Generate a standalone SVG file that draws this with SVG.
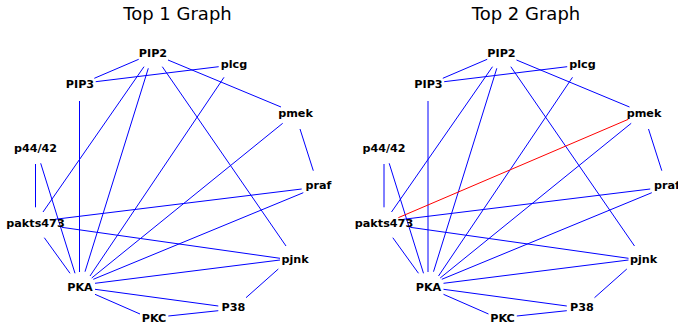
<svg xmlns="http://www.w3.org/2000/svg" width="678" height="328" viewBox="0 0 678 328">
<style>
.t{font-family:"DejaVu Sans","Liberation Sans",sans-serif;font-size:18px;fill:#000;text-anchor:middle}
.n{font-family:"DejaVu Sans","Liberation Sans",sans-serif;font-size:11.2px;font-weight:bold;fill:#000;text-anchor:middle}
.e line{stroke:#0000ff;stroke-width:1}
.e line.r{stroke:#ff0000}
</style>
<rect width="678" height="328" fill="#fff"/>
<text class="t" x="177.5" y="19.5">Top 1 Graph</text>
<text class="t" x="526" y="19.5">Top 2 Graph</text>
<g id="graph1">
<g id="g1-edges" class="e">
<line x1="138.7" y1="59.3" x2="94.3" y2="78.3"/>
<line x1="95.7" y1="81.7" x2="218.7" y2="66.7"/>
<line x1="168" y1="60" x2="281" y2="107"/>
<line x1="144" y1="66.7" x2="43" y2="212"/>
<line x1="148.3" y1="68.3" x2="85" y2="271.7"/>
<line x1="162.3" y1="66.7" x2="286" y2="246"/>
<line x1="224" y1="77.3" x2="90" y2="276"/>
<line x1="282.7" y1="123.3" x2="91.7" y2="278"/>
<line x1="300" y1="129" x2="313.3" y2="170.7"/>
<line x1="301.7" y1="189" x2="55" y2="219.3"/>
<line x1="303.3" y1="192.7" x2="93.3" y2="279.3"/>
<line x1="61.7" y1="227.3" x2="280" y2="258.3"/>
<line x1="44.3" y1="237.7" x2="70" y2="273.3"/>
<line x1="35.5" y1="164" x2="35.5" y2="207.3"/>
<line x1="40.7" y1="163.3" x2="75" y2="273.3"/>
<line x1="79.5" y1="101" x2="79.5" y2="272"/>
<line x1="280" y1="260" x2="95" y2="283.3"/>
<line x1="95" y1="289.3" x2="218.3" y2="306"/>
<line x1="95" y1="294.3" x2="140" y2="314"/>
<line x1="168.3" y1="316" x2="218.3" y2="310.7"/>
<line x1="278.3" y1="269" x2="246" y2="297.7"/>
</g>
<g id="g1-PIP2"><text class="n" x="153" y="56.5">PIP2</text></g>
<g id="g1-plcg"><text class="n" x="234" y="67.5">plcg</text></g>
<g id="g1-PIP3"><text class="n" x="80" y="87.7">PIP3</text></g>
<g id="g1-pmek"><text class="n" x="295.5" y="116.8">pmek</text></g>
<g id="g1-p44-42"><text class="n" x="35.5" y="151.5">p44/42</text></g>
<g id="g1-praf"><text class="n" x="318.5" y="189">praf</text></g>
<g id="g1-pakts473"><text class="n" x="35.5" y="227">pakts473</text></g>
<g id="g1-pjnk"><text class="n" x="295" y="262.5">pjnk</text></g>
<g id="g1-PKA"><text class="n" x="80" y="290.8">PKA</text></g>
<g id="g1-P38"><text class="n" x="233.5" y="310.8">P38</text></g>
<g id="g1-PKC"><text class="n" x="154" y="321.5">PKC</text></g>
</g>
<g id="graph2" transform="translate(348.5,0)">
<g id="g2-edges" class="e">
<line x1="138.7" y1="59.3" x2="94.3" y2="78.3"/>
<line x1="95.7" y1="81.7" x2="218.7" y2="66.7"/>
<line x1="168" y1="60" x2="281" y2="107"/>
<line x1="144" y1="66.7" x2="43" y2="212"/>
<line x1="148.3" y1="68.3" x2="85" y2="271.7"/>
<line x1="162.3" y1="66.7" x2="286" y2="246"/>
<line x1="224" y1="77.3" x2="90" y2="276"/>
<line x1="282.7" y1="123.3" x2="91.7" y2="278"/>
<line x1="300" y1="129" x2="313.3" y2="170.7"/>
<line x1="301.7" y1="189" x2="55" y2="219.3"/>
<line x1="303.3" y1="192.7" x2="93.3" y2="279.3"/>
<line x1="61.7" y1="227.3" x2="280" y2="258.3"/>
<line x1="44.3" y1="237.7" x2="70" y2="273.3"/>
<line x1="35.5" y1="164" x2="35.5" y2="207.3"/>
<line x1="40.7" y1="163.3" x2="75" y2="273.3"/>
<line x1="79.5" y1="101" x2="79.5" y2="272"/>
<line x1="280" y1="260" x2="95" y2="283.3"/>
<line x1="95" y1="289.3" x2="218.3" y2="306"/>
<line x1="95" y1="294.3" x2="140" y2="314"/>
<line x1="168.3" y1="316" x2="218.3" y2="310.7"/>
<line x1="278.3" y1="269" x2="246" y2="297.7"/>
<line class="r" x1="279.8" y1="119.3" x2="49.8" y2="217.7"/>
</g>
<g id="g2-PIP2"><text class="n" x="153" y="56.5">PIP2</text></g>
<g id="g2-plcg"><text class="n" x="234" y="67.5">plcg</text></g>
<g id="g2-PIP3"><text class="n" x="80" y="87.7">PIP3</text></g>
<g id="g2-pmek"><text class="n" x="295.5" y="116.8">pmek</text></g>
<g id="g2-p44-42"><text class="n" x="35.5" y="151.5">p44/42</text></g>
<g id="g2-praf"><text class="n" x="318.5" y="189">praf</text></g>
<g id="g2-pakts473"><text class="n" x="35.5" y="227">pakts473</text></g>
<g id="g2-pjnk"><text class="n" x="295" y="262.5">pjnk</text></g>
<g id="g2-PKA"><text class="n" x="80" y="290.8">PKA</text></g>
<g id="g2-P38"><text class="n" x="233.5" y="310.8">P38</text></g>
<g id="g2-PKC"><text class="n" x="154" y="321.5">PKC</text></g>
</g>
</svg>
